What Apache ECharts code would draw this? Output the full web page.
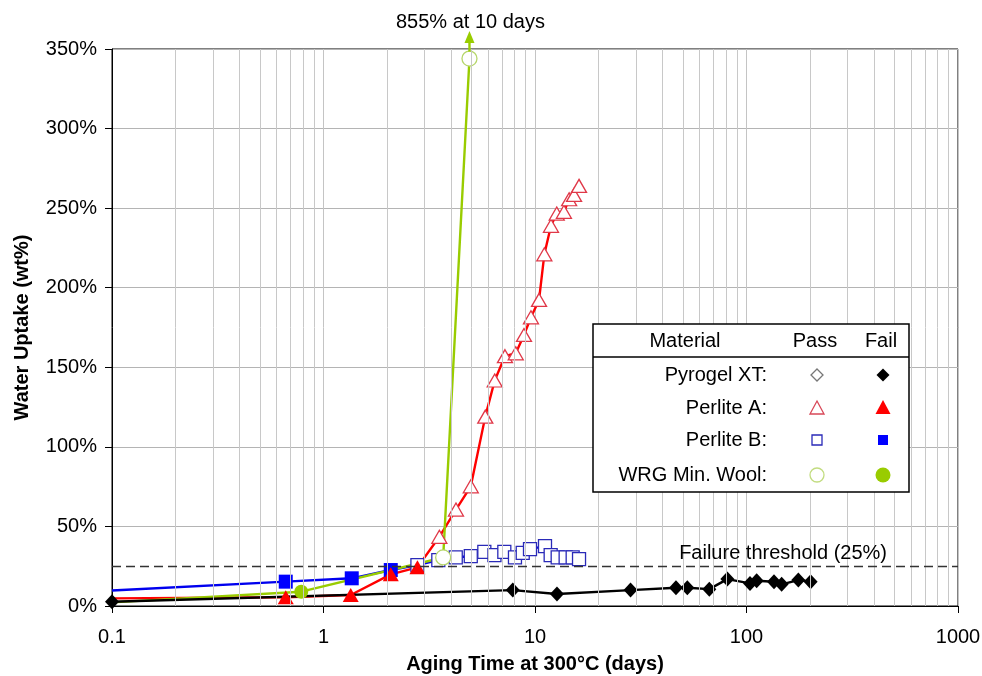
<!DOCTYPE html>
<html>
<head>
<meta charset="utf-8">
<script src="https://cdn.jsdelivr.net/npm/echarts@6/dist/echarts.min.js"></script>
<style>
  html, body { margin: 0; padding: 0; background: #fff; }
  #chart { width: 982px; height: 676px; }
</style>
</head>
<body>
<div id="chart"></div>
<script>
// values: [days, wt%]
var pyrogelFail = [[0.1, 2.7], [7.85, 10], [12.7, 7.5], [28.3, 10], [46.4, 11.5], [52.5, 11.5], [66.7, 10.6],
  [81.2, 16.9], [103.9, 14.2], [111.7, 15.9], [134.9, 15.2], [146.6, 13.6], [175.8, 16.3], [201, 15.2]];
var perliteAFail = [[0.1, 4.8], [0.663, 5.5], [1.345, 6.9], [2.08, 19.9], [2.78, 24.3]];
var perliteAPass = [[3.53, 43.5], [4.23, 60.6], [4.97, 75.2], [5.82, 119], [6.45, 141.7], [7.21, 157], [8.11, 158.8],
  [8.87, 170.3], [9.57, 181.4], [10.45, 192.3], [11.07, 221], [11.9, 238.9], [12.67, 246.6], [13.7, 247.7],
  [14.5, 255.6], [15.3, 258.3], [16.15, 264]];
var perliteBFail = [[0.1, 9.7], [0.663, 15.3], [1.36, 17.4], [2.08, 22.6]];
var perliteBPass = [[2.78, 25.7], [3.49, 28.8], [4.22, 30.5], [4.97, 31.4], [5.76, 34], [6.43, 32], [7.16, 34],
  [8.04, 30.5], [8.75, 33.4], [9.47, 35.7], [11.15, 37.6], [11.86, 32], [12.8, 30.5], [13.96, 30.5],
  [15.07, 30.5], [16.15, 29.5]];
var wrgFail = [[0.1, 2.3], [0.785, 9]];
var wrgPass = [[3.68, 30.5], [4.9, 344]];

var xTicks = [0.1, 1, 10, 100, 1000];
var yTicks = [0, 50, 100, 150, 200, 250, 300, 350];
var threshold = 25;
var legendRows = ['Pyrogel XT:', 'Perlite A:', 'Perlite B:', 'WRG Min. Wool:'];

var FONT = 'Liberation Sans, Arial, sans-serif';

// minor log grid lines 2..9 in each decade
var minorGrid = [];
xTicks.slice(0, -1).forEach(function (d) {
  for (var k = 2; k <= 9; k++) minorGrid.push(+(d * k).toPrecision(3));
});

function points(fail, pass, fs, ps, hideFirst) {
  var out = fail.map(function (p, i) {
    return {
      value: p,
      symbol: (hideFirst && i === 0) ? 'none' : fs.symbol,
      symbolSize: fs.size,
      itemStyle: { color: fs.color, borderColor: fs.color, borderWidth: 0 }
    };
  });
  return out.concat(pass.map(function (p) {
    return {
      value: p,
      symbol: ps.symbol,
      symbolSize: ps.size,
      itemStyle: { color: '#fff', borderColor: ps.color, borderWidth: 1.3 }
    };
  }));
}

function lineSeries(name, color, data) {
  return {
    name: name,
    type: 'line',
    data: data,
    showSymbol: true,
    lineStyle: { color: color, width: 2.4 },
    emphasis: { disabled: true },
    animation: false
  };
}

var chart = echarts.init(document.getElementById('chart'));

var G = { left: 112, right: 24, top: 49, bottom: 70 };

var option = {
  animation: false,
  grid: {
    left: G.left, right: G.right, top: G.top, bottom: G.bottom,
    outerBoundsMode: 'none',
    show: true, borderColor: '#000', borderWidth: 1
  },
  xAxis: {
    type: 'log',
    logBase: 10,
    min: xTicks[0],
    max: xTicks[xTicks.length - 1],
    name: 'Aging Time at 300°C (days)',
    nameLocation: 'middle',
    nameGap: 48,
    nameTextStyle: { fontSize: 20, fontWeight: 'bold', fontFamily: FONT, color: '#000' },
    axisLine: { lineStyle: { color: '#000', width: 1 } },
    axisTick: { show: true, length: 7, lineStyle: { color: '#000' } },
    axisLabel: {
      fontSize: 20, fontFamily: FONT, color: '#000', margin: 21,
      formatter: function (v) { return String(+(+v).toPrecision(3)); }
    },
    splitLine: { show: true, lineStyle: { color: '#c4c4c4', width: 1 } }
  },
  yAxis: {
    type: 'value',
    min: yTicks[0],
    max: yTicks[yTicks.length - 1],
    interval: 50,
    name: 'Water Uptake (wt%)',
    nameLocation: 'middle',
    nameGap: 80,
    nameTextStyle: { fontSize: 20, fontWeight: 'bold', fontFamily: FONT, color: '#000' },
    axisLine: { show: true, lineStyle: { color: '#000', width: 1 } },
    axisTick: { show: true, length: 7, lineStyle: { color: '#000' } },
    axisLabel: { fontSize: 20, fontFamily: FONT, color: '#000', margin: 15, formatter: '{value}%' },
    splitLine: { show: true, lineStyle: { color: '#b4b4b4', width: 1 } }
  },
  series: [
    {
      // minor grid + failure threshold
      type: 'line',
      data: [],
      z: 1,
      silent: true,
      markLine: {
        silent: true,
        symbol: 'none',
        animation: false,
        data: minorGrid.map(function (v) {
          return { xAxis: v, lineStyle: { color: '#c8c8c8', type: 'solid', width: 1 }, label: { show: false } };
        }).concat([{
          yAxis: threshold,
          lineStyle: { color: '#333', type: [9, 5], width: 1.3 },
          label: {
            show: true, position: 'insideEndTop', formatter: 'Failure threshold (25%)',
            fontSize: 20, fontFamily: FONT, color: '#000', padding: [0, 68, 0, 0], distance: 3
          }
        }])
      }
    },
    lineSeries('Perlite B', '#0000ee', points(perliteBFail, perliteBPass,
      { symbol: 'rect', size: 14, color: '#0000ff' }, { symbol: 'rect', size: 13, color: '#2a2ab8' }, true)),
    lineSeries('Perlite A', '#ff0000', points(perliteAFail, perliteAPass,
      { symbol: 'triangle', size: [16, 14], color: '#ff0000' }, { symbol: 'triangle', size: [15, 13], color: '#e03848' }, true)),
    lineSeries('WRG Min. Wool', '#99cc00', points(wrgFail, wrgPass,
      { symbol: 'circle', size: 14, color: '#99cc00' }, { symbol: 'circle', size: 15, color: '#b6d66a' }, true)),
    lineSeries('Pyrogel XT', '#000', points(pyrogelFail, [],
      { symbol: 'diamond', size: [14, 15], color: '#000' }, {}, false))
  ]
};

// custom table legend
var lx = 593, ly = 324, lw = 316, lh = 168;
var rowY = [375, 408, 440, 475];
var passX = 817, failX = 883;
var legendEls = [
  { type: 'rect', z: 100, shape: { x: lx, y: ly, width: lw, height: lh }, style: { fill: '#fff', stroke: '#000', lineWidth: 1.5 } },
  { type: 'line', z: 101, shape: { x1: lx, y1: 357, x2: lx + lw, y2: 357 }, style: { stroke: '#000', lineWidth: 1.5 } },
  { type: 'text', z: 101, style: { text: 'Material', x: 685, y: 341, fontSize: 20, fontFamily: FONT, fill: '#000', align: 'center', verticalAlign: 'middle' } },
  { type: 'text', z: 101, style: { text: 'Pass', x: 815, y: 341, fontSize: 20, fontFamily: FONT, fill: '#000', align: 'center', verticalAlign: 'middle' } },
  { type: 'text', z: 101, style: { text: 'Fail', x: 881, y: 341, fontSize: 20, fontFamily: FONT, fill: '#000', align: 'center', verticalAlign: 'middle' } }
];
legendRows.forEach(function (t, i) {
  legendEls.push({ type: 'text', z: 101, style: { text: t, x: 767, y: rowY[i], fontSize: 20, fontFamily: FONT, fill: '#000', align: 'right', verticalAlign: 'middle' } });
});
legendEls.push(
  { type: 'polygon', z: 101, shape: { points: [[passX, rowY[0] - 6], [passX + 6, rowY[0]], [passX, rowY[0] + 6], [passX - 6, rowY[0]]] }, style: { fill: '#fff', stroke: '#777', lineWidth: 1.3 } },
  { type: 'polygon', z: 101, shape: { points: [[failX, rowY[0] - 6.5], [failX + 6.5, rowY[0]], [failX, rowY[0] + 6.5], [failX - 6.5, rowY[0]]] }, style: { fill: '#000' } },
  { type: 'polygon', z: 101, shape: { points: [[passX, rowY[1] - 7], [passX + 7, rowY[1] + 6], [passX - 7, rowY[1] + 6]] }, style: { fill: '#fff', stroke: '#d84858', lineWidth: 1.3 } },
  { type: 'polygon', z: 101, shape: { points: [[failX, rowY[1] - 8], [failX + 7.5, rowY[1] + 6], [failX - 7.5, rowY[1] + 6]] }, style: { fill: '#ff0000' } },
  { type: 'rect', z: 101, shape: { x: passX - 5, y: rowY[2] - 5, width: 10, height: 10 }, style: { fill: '#fff', stroke: '#2a2ab8', lineWidth: 1.3 } },
  { type: 'rect', z: 101, shape: { x: failX - 5, y: rowY[2] - 5, width: 10, height: 10 }, style: { fill: '#0000ff' } },
  { type: 'circle', z: 101, shape: { cx: passX, cy: rowY[3], r: 7 }, style: { fill: '#fff', stroke: '#c2dc80', lineWidth: 1.3 } },
  { type: 'circle', z: 101, shape: { cx: failX, cy: rowY[3], r: 7.5 }, style: { fill: '#99cc00' } }
);
option.graphic = { elements: legendEls };

chart.setOption(option);

// arrow above the last WRG point pointing off the scale, plus note
var lastWrg = wrgPass[wrgPass.length - 1];
var tipPx = chart.convertToPixel({ seriesIndex: 3 }, lastWrg);
var ax = tipPx[0];
var arrowEls = [
  { type: 'line', z: 50, shape: { x1: ax, y1: tipPx[1] - 7, x2: ax, y2: 42 }, style: { stroke: '#99cc00', lineWidth: 2.4 } },
  { type: 'polygon', z: 50, shape: { points: [[ax, 31], [ax + 5, 43], [ax - 5, 43]] }, style: { fill: '#99cc00' } },
  { type: 'text', z: 50, style: { text: '855% at 10 days', x: ax + 1, y: 22, fontSize: 20, fontFamily: FONT, fill: '#000', align: 'center', verticalAlign: 'middle' } }
];
chart.setOption({ graphic: { elements: legendEls.concat(arrowEls) } });
</script>
</body>
</html>
